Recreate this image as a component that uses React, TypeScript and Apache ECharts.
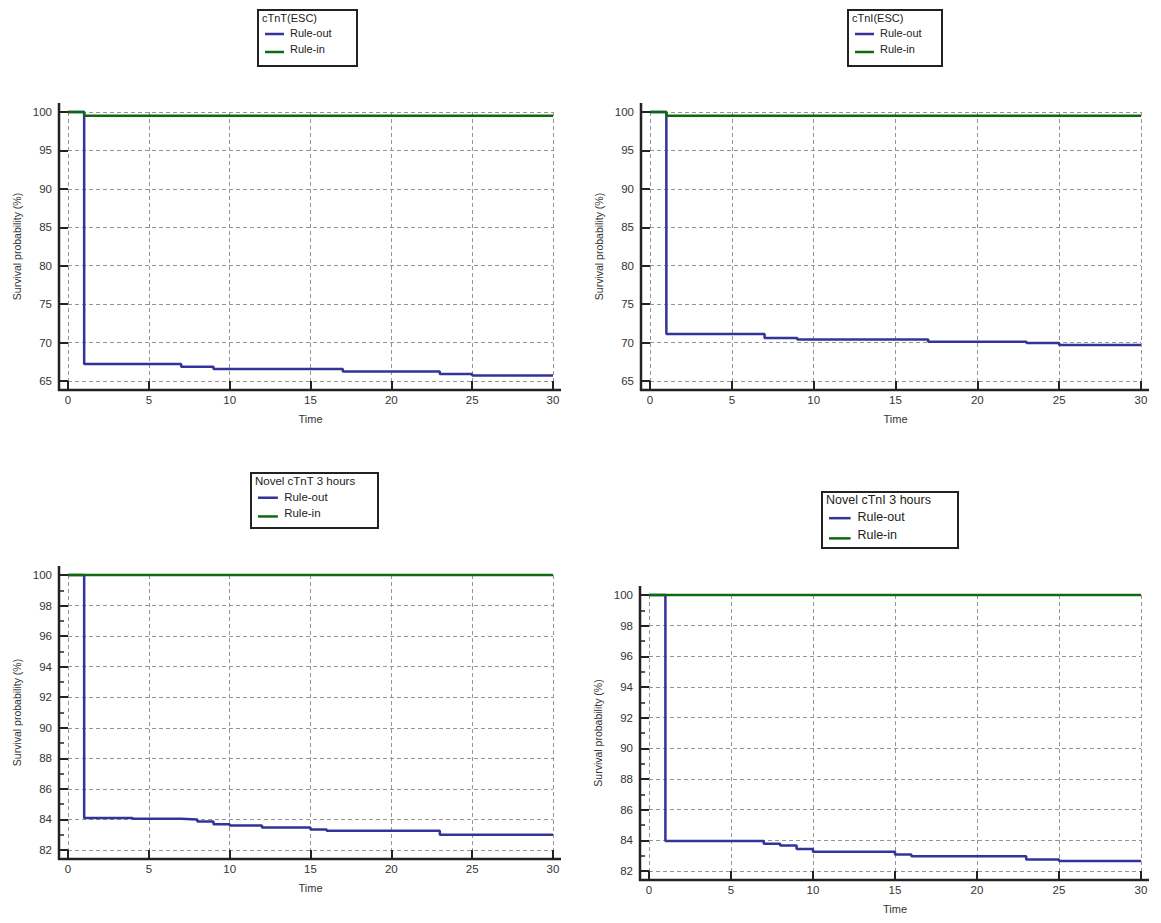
import React, { useEffect, useRef } from "react";
import * as echarts from "echarts";

const FONT = "'Liberation Sans', Arial, Helvetica, sans-serif";
const BLUE = "#333399";
const GREEN = "#0f6a0f";
const AXIS = "#222222";
const TEXT = "#333333";

// ---------- data ----------
const panelTitles = ["cTnT(ESC)", "cTnI(ESC)", "Novel cTnT 3 hours", "Novel cTnI 3 hours"];
const seriesNames = ["Rule-out", "Rule-in"];
const xAxisName = "Time";
const yAxisName = "Survival probability (%)";
const timeMin = 0;
const timeMax = 30;
const timeStep = 5;
const survMin = [65, 65, 82, 82];
const survMax = [100, 100, 100, 100];
const survStep = [5, 5, 2, 2];

// cTnT(ESC)
const tlOutTime = [0, 1, 7, 9, 17, 23, 25, 30];
const tlOutSurv = [100, 67.2, 66.85, 66.55, 66.25, 65.9, 65.7, 65.7];
const tlInTime = [0, 1, 30];
const tlInSurv = [100, 99.5, 99.5];
// cTnI(ESC)
const trOutTime = [0, 1, 7, 9, 17, 23, 25, 30];
const trOutSurv = [100, 71.1, 70.6, 70.4, 70.1, 69.95, 69.7, 69.7];
const trInTime = [0, 1, 30];
const trInSurv = [100, 99.5, 99.5];
// Novel cTnT 3 hours
const blOutTime = [0, 1, 4, 7, 8, 9, 10, 12, 15, 16, 23, 30];
const blOutSurv = [100, 84.1, 84.04, 84.0, 83.87, 83.68, 83.6, 83.47, 83.34, 83.26, 83.0, 83.0];
const blInTime = [0, 30];
const blInSurv = [100, 100];
// Novel cTnI 3 hours
const brOutTime = [0, 1, 7, 8, 9, 10, 15, 16, 23, 25, 30];
const brOutSurv = [100, 83.95, 83.78, 83.67, 83.43, 83.25, 83.08, 82.97, 82.75, 82.66, 82.66];
const brInTime = [0, 30];
const brInSurv = [100, 100];

const outTimes = [tlOutTime, trOutTime, blOutTime, brOutTime];
const outSurvs = [tlOutSurv, trOutSurv, blOutSurv, brOutSurv];
const inTimes = [tlInTime, trInTime, blInTime, brInTime];
const inSurvs = [tlInSurv, trInSurv, blInSurv, brInSurv];

// ---------- layout ----------
const grids = [
  { left: 68, top: 112, width: 485, height: 269 },
  { left: 650, top: 112, width: 491, height: 269 },
  { left: 68, top: 575, width: 485, height: 275 },
  { left: 649, top: 595, width: 492, height: 276 },
];
const legendBoxes = [
  { x: 258, y: 10, w: 99, h: 56, fs: 11 },
  { x: 848, y: 10, w: 94, h: 56, fs: 11 },
  { x: 251, y: 473, w: 127, h: 55, fs: 11.5 },
  { x: 822, y: 492, w: 136, h: 56, fs: 12.5 },
];
const minorTicks = [false, false, true, true];

function pairs(t: number[], v: number[]) {
  return t.map((x, i) => [x, v[i]]);
}

export default function App() {
  const ref = useRef<HTMLDivElement>(null);
  useEffect(() => {
    document.body.style.margin = "0";
    const chart = echarts.init(ref.current!, null, { renderer: "svg" });

    const xAxes: any[] = [];
    const yAxes: any[] = [];
    const series: any[] = [];
    const graphics: any[] = [];

    grids.forEach((g, i) => {
      xAxes.push({
        gridIndex: i,
        type: "value",
        min: timeMin,
        max: timeMax,
        interval: timeStep,
        offset: 9,
        axisLine: { show: false, onZero: false },
        axisTick: { show: true, inside: true, length: 9, lineStyle: { color: AXIS, width: 2 } },
        axisLabel: { margin: 4, fontSize: 11.5, color: TEXT, fontFamily: FONT },
        splitLine: { show: true, lineStyle: { type: [4, 3], color: "#959595", width: 1 } },
        name: xAxisName,
        nameLocation: "middle",
        nameGap: 23,
        nameTextStyle: { fontSize: 11, color: TEXT, fontFamily: FONT },
      });
      yAxes.push({
        gridIndex: i,
        type: "value",
        min: survMin[i],
        max: survMax[i],
        interval: survStep[i],
        offset: 9,
        axisLine: { show: false, onZero: false },
        axisTick: { show: true, inside: true, length: 9, lineStyle: { color: AXIS, width: 2 } },
        minorTick: { show: minorTicks[i], splitNumber: 2, length: 5, lineStyle: { color: AXIS, width: 1.5 } },
        axisLabel: { margin: 7, fontSize: 11.5, color: TEXT, fontFamily: FONT },
        splitLine: { show: true, lineStyle: { type: [4, 3], color: "#959595", width: 1 } },
        name: yAxisName,
        nameLocation: "middle",
        nameGap: 37,
        nameRotate: 90,
        nameTextStyle: { fontSize: 10.5, color: TEXT, fontFamily: FONT },
      });
      series.push({
        name: seriesNames[0],
        type: "line",
        step: "end",
        xAxisIndex: i,
        yAxisIndex: i,
        symbol: "none",
        clip: false,
        lineStyle: { color: BLUE, width: 2.5 },
        itemStyle: { color: BLUE },
        data: pairs(outTimes[i], outSurvs[i]),
      });
      series.push({
        name: seriesNames[1],
        type: "line",
        step: "end",
        xAxisIndex: i,
        yAxisIndex: i,
        symbol: "none",
        clip: false,
        lineStyle: { color: GREEN, width: 2.5 },
        itemStyle: { color: GREEN },
        data: pairs(inTimes[i], inSurvs[i]),
      });

      // axis lines (detached MedCalc style)
      const ax = g.left - 9;
      const ay = g.top + g.height + 9;
      graphics.push({
        type: "line",
        shape: { x1: ax, y1: g.top - 9, x2: ax, y2: ay + 1 },
        style: { stroke: AXIS, lineWidth: 2.5 },
        z: 10,
      });
      graphics.push({
        type: "line",
        shape: { x1: ax - 1, y1: ay, x2: g.left + g.width + 8, y2: ay },
        style: { stroke: AXIS, lineWidth: 2.5 },
        z: 10,
      });

      // legend box
      const b = legendBoxes[i];
      const k = b.fs / 11;
      const rowH = 16 * k;
      graphics.push({
        type: "group",
        x: b.x,
        y: b.y,
        z: 10,
        children: [
          { type: "rect", shape: { x: 0, y: 0, width: b.w, height: b.h }, style: { fill: "#fff", stroke: "#222", lineWidth: 2 } },
          { type: "text", x: 4, y: 8, style: { text: panelTitles[i], fontSize: b.fs, fontFamily: FONT, fill: "#222", verticalAlign: "middle" } },
          { type: "line", shape: { x1: 7, y1: 8 + rowH, x2: 7 + 19 * k, y2: 8 + rowH }, style: { stroke: BLUE, lineWidth: 2.5 } },
          { type: "text", x: 7 + 25 * k, y: 8 + rowH - 1, style: { text: seriesNames[0], fontSize: b.fs, fontFamily: FONT, fill: "#222", verticalAlign: "middle" } },
          { type: "line", shape: { x1: 7, y1: 8 + 2 * rowH + 2, x2: 7 + 19 * k, y2: 8 + 2 * rowH + 2 }, style: { stroke: GREEN, lineWidth: 2.5 } },
          { type: "text", x: 7 + 25 * k, y: 8 + 2 * rowH - 1, style: { text: seriesNames[1], fontSize: b.fs, fontFamily: FONT, fill: "#222", verticalAlign: "middle" } },
        ],
      });
    });

    chart.setOption({
      animation: false,
      backgroundColor: "#ffffff",
      textStyle: { fontFamily: FONT },
      grid: grids.map((g) => ({ ...g, containLabel: false })),
      xAxis: xAxes,
      yAxis: yAxes,
      series,
      graphic: graphics,
    });
    return () => chart.dispose();
  }, []);
  return <div ref={ref} style={{ width: 1161, height: 923 }} />;
}
